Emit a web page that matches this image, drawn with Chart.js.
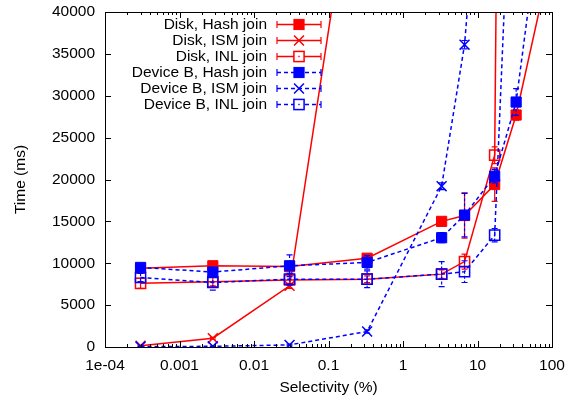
<!DOCTYPE html>
<html><head><meta charset="utf-8">
<script src="https://cdn.jsdelivr.net/npm/chart.js@4/dist/chart.umd.min.js"></script>
<style>html,body{margin:0;padding:0;background:#fff}canvas{display:block}</style>
</head><body>
<canvas id="c" width="575" height="402"></canvas>
<script>
// ---- data ----
const selectivity = [0.0003, 0.0028, 0.03, 0.33, 3.3, 6.7, 17, 33, 100];
const xTickValues = [1e-4, 1e-3, 1e-2, 1e-1, 1, 10, 100];
const xTickLabels = ['1e-04', '0.001', '0.01', '0.1', '1', '10', '100'];
const yTickValues = [0, 5000, 10000, 15000, 20000, 25000, 30000, 35000, 40000];
const seriesNames = ['Disk, Hash join', 'Disk, ISM join', 'Disk, INL join',
                     'Device B, Hash join', 'Device B, ISM join', 'Device B, INL join'];

const diskHash    = [9400, 9700, 9600, 10600, 15000, 15700, 19400, 27700, 47000];
const diskHashErr = [300, 300, 300, 400, 400, 2700, 2000, 600, 0];
const diskISM     = [150, 1050, 7300, 68000, null, null, null, null, null];
const diskISMErr  = [60, 100, 300, 0, 0, 0, 0, 0, 0];
const diskINL     = [7600, 7800, 8000, 8100, 8700, 10200, 22900, 300000, null];
const diskINLErr  = [600, 500, 600, 400, 500, 900, 1000, 0, 0];
const devHash     = [9500, 8950, 9700, 10100, 13050, 15750, 20400, 29250, 62000];
const devHashErr  = [400, 300, 1300, 800, 600, 2600, 800, 1600, 0];
const devISM      = [50, 80, 250, 1850, 19200, 36100, 80000, null, null];
const devISMErr   = [30, 30, 100, 200, 400, 500, 0, 0, 0];
const devINL      = [8300, 7700, 8100, 8100, 8700, 9000, 13350, 74000, null];
const devINLErr   = [500, 900, 700, 1000, 1500, 1300, 800, 0, 0];

// ---- styling ----
const RED = '#ff0000', BLUE = '#0000ff';
const FONT = 'Liberation Sans, Arial, Helvetica, sans-serif';
const FS = 15.5;
const DASH = [4, 3];

function pts(vals, errs) {
  const out = [];
  vals.forEach((v, i) => { if (v !== null) out.push({x: selectivity[i], y: v, e: errs[i]}); });
  return out;
}
function ds(label, vals, errs, color, style, filled, dashed, order) {
  return {
    label, data: pts(vals, errs), borderColor: color,
    backgroundColor: filled ? color : 'rgba(0,0,0,0)',
    pointBackgroundColor: filled ? color : 'rgba(0,0,0,0)',
    pointBorderColor: color, pointStyle: style,
    pointRadius: style === 'crossRot' ? 7 : 7.2,
    pointHoverRadius: 7, pointBorderWidth: filled ? 1 : 1.5,
    borderWidth: 1.5, borderDash: dashed ? DASH : [], tension: 0,
    fill: false, order, _dashed: dashed, _filled: filled
  };
}
const datasets = [
  ds(seriesNames[0], diskHash, diskHashErr, RED, 'rect', true, false, 6),
  ds(seriesNames[1], diskISM, diskISMErr, RED, 'crossRot', false, false, 5),
  ds(seriesNames[2], diskINL, diskINLErr, RED, 'rect', false, false, 4),
  ds(seriesNames[3], devHash, devHashErr, BLUE, 'rect', true, true, 3),
  ds(seriesNames[4], devISM, devISMErr, BLUE, 'crossRot', false, true, 2),
  ds(seriesNames[5], devINL, devINLErr, BLUE, 'rect', false, true, 1)
];

function drawMarker(ctx, d, x, y) {
  ctx.save();
  ctx.setLineDash([]);
  ctx.strokeStyle = d.borderColor;
  ctx.fillStyle = d.borderColor;
  if (d.pointStyle === 'rect') {
    const s = d.pointRadius * Math.SQRT1_2;
    if (d._filled) { ctx.fillRect(x - s, y - s, 2 * s, 2 * s); ctx.lineWidth = 1; ctx.strokeRect(x - s, y - s, 2 * s, 2 * s); }
    else { ctx.fillStyle = '#fff'; ctx.fillRect(x - s, y - s, 2 * s, 2 * s); ctx.lineWidth = 1.5; ctx.strokeRect(x - s, y - s, 2 * s, 2 * s);
      ctx.fillStyle = d.borderColor; ctx.fillRect(x - 0.7, y - 0.7, 1.4, 1.4); }
  } else {
    const s = d.pointRadius * Math.SQRT1_2;
    ctx.lineWidth = 1.5;
    ctx.beginPath(); ctx.moveTo(x - s, y - s); ctx.lineTo(x + s, y + s);
    ctx.moveTo(x - s, y + s); ctx.lineTo(x + s, y - s); ctx.stroke();
  }
  ctx.restore();
}

const errorBars = {
  id: 'errorBars',
  beforeDatasetDraw(chart, args) {
    const d = chart.data.datasets[args.index];
    const xs = chart.scales.x, ys = chart.scales.y, ctx = chart.ctx, a = chart.chartArea;
    ctx.save();
    ctx.beginPath(); ctx.rect(a.left, a.top, a.right - a.left, a.bottom - a.top); ctx.clip();
    ctx.strokeStyle = d.borderColor; ctx.lineWidth = 1.2;
    d.data.forEach(p => {
      if (!p.e) return;
      const x = xs.getPixelForValue(p.x);
      const y1 = ys.getPixelForValue(p.y + p.e), y2 = ys.getPixelForValue(p.y - p.e);
      ctx.setLineDash(d._dashed ? [3, 2] : []);
      ctx.beginPath(); ctx.moveTo(x, y1); ctx.lineTo(x, y2); ctx.stroke();
      ctx.setLineDash([]);
      ctx.beginPath(); ctx.moveTo(x - 3, y1); ctx.lineTo(x + 3, y1);
      ctx.moveTo(x - 3, y2); ctx.lineTo(x + 3, y2); ctx.stroke();
    });
    ctx.restore();
  }
};

const frame = {
  id: 'frame',
  afterDraw(chart) {
    const ctx = chart.ctx, a = chart.chartArea, xs = chart.scales.x, ys = chart.scales.y;
    ctx.save();
    ctx.strokeStyle = '#000'; ctx.lineWidth = 1; ctx.setLineDash([]);
    ctx.beginPath();
    // y major ticks (left and right, inward)
    yTickValues.forEach(v => {
      const y = Math.round(ys.getPixelForValue(v)) + 0.5;
      ctx.moveTo(a.left, y); ctx.lineTo(a.left + 6, y);
      ctx.moveTo(a.right, y); ctx.lineTo(a.right - 6, y);
    });
    // x ticks (bottom and top, inward), major + minor
    xTickValues.forEach((v, k) => {
      const x = Math.round(xs.getPixelForValue(v)) + 0.5;
      ctx.moveTo(x, a.bottom); ctx.lineTo(x, a.bottom - 6);
      ctx.moveTo(x, a.top); ctx.lineTo(x, a.top + 6);
      if (k < xTickValues.length - 1) {
        for (let m = 2; m <= 9; m++) {
          const xm = Math.round(xs.getPixelForValue(v * m)) + 0.5;
          ctx.moveTo(xm, a.bottom); ctx.lineTo(xm, a.bottom - 3);
          ctx.moveTo(xm, a.top); ctx.lineTo(xm, a.top + 3);
        }
      }
    });
    ctx.stroke();
    ctx.strokeRect(Math.round(a.left) + 0.5, Math.round(a.top) + 0.5,
                   Math.round(a.right - a.left), Math.round(a.bottom - a.top));
    // legend
    const textRight = 267, lineL = 277, lineR = 321, mid = 299;
    ctx.font = FS + 'px ' + FONT;
    ctx.textAlign = 'right'; ctx.textBaseline = 'middle';
    chart.data.datasets.forEach((d, i) => {
      const y = 24.5 + i * 16;
      ctx.fillStyle = '#000';
      ctx.fillText(d.label, textRight, y + 0.5);
      ctx.strokeStyle = d.borderColor; ctx.lineWidth = 1.5;
      ctx.setLineDash(d._dashed ? DASH : []);
      ctx.beginPath(); ctx.moveTo(lineL, y); ctx.lineTo(lineR, y); ctx.stroke();
      ctx.setLineDash([]); ctx.lineWidth = 1.2;
      ctx.beginPath(); ctx.moveTo(lineL, y - 3.5); ctx.lineTo(lineL, y + 3.5);
      ctx.moveTo(lineR, y - 3.5); ctx.lineTo(lineR, y + 3.5); ctx.stroke();
      drawMarker(ctx, d, mid, y);
    });
    ctx.restore();
  }
};

new Chart(document.getElementById('c'), {
  type: 'line',
  data: { datasets },
  options: {
    responsive: false, animation: false, devicePixelRatio: 1,
    layout: { padding: { top: 12, right: 23, left: 0, bottom: 0 } },
    plugins: { legend: { display: false }, tooltip: { enabled: false } },
    elements: { line: { tension: 0 } },
    scales: {
      x: {
        type: 'logarithmic', min: 1e-4, max: 100,
        grid: { display: false, drawTicks: false }, border: { display: false },
        afterBuildTicks(s) { s.ticks = xTickValues.map(v => ({ value: v })); },
        afterFit(s) { s.height = 55; s.paddingLeft = 0; s.paddingRight = 0; },
        ticks: {
          autoSkip: false, maxRotation: 0, minRotation: 0, padding: 9, color: '#000',
          font: { family: FONT, size: FS },
          callback(v) { const k = xTickValues.findIndex(t => Math.abs(Math.log10(t) - Math.log10(v)) < 1e-6); return k >= 0 ? xTickLabels[k] : ''; }
        },
        title: { display: true, text: 'Selectivity (%)', color: '#000', font: { family: FONT, size: FS }, padding: { top: 0, bottom: 5 } }
      },
      y: {
        min: 0, max: 40000,
        grid: { display: false, drawTicks: false }, border: { display: false },
        afterBuildTicks(s) { s.ticks = yTickValues.map(v => ({ value: v })); },
        afterFit(s) { s.width = 105; s.paddingTop = 0; s.paddingBottom = 0; },
        ticks: { padding: 10, color: '#000', font: { family: FONT, size: FS }, callback(v) { return String(v); } },
        title: { display: true, text: 'Time (ms)', color: '#000', font: { family: FONT, size: FS }, padding: { top: 11, bottom: 0 } }
      }
    }
  },
  plugins: [errorBars, frame]
});
</script>
</body></html>
